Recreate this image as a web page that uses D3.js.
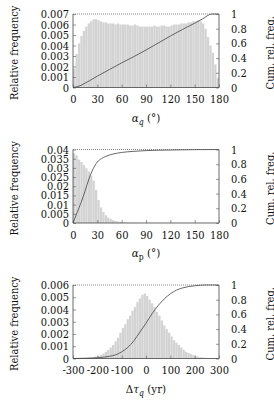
<!DOCTYPE html>
<html>
<head>
<meta charset="utf-8">
<script src="https://cdn.jsdelivr.net/npm/d3@7"></script>
<style>
  body { margin: 0; background: #fff; }
</style>
</head>
<body>
<svg id="chart" width="274" height="411"></svg>
<script>
// ---- data ----

// panel 1: alpha_q, 3 degree bins (bin centres 1.5 .. 178.5)
var aqFreq = [0.0018, 0.0032, 0.0042, 0.0049, 0.0054, 0.0058, 0.0061, 0.0063, 0.0065, 0.0065,
              0.0064, 0.0063, 0.0062, 0.0062, 0.0061, 0.0061, 0.0061, 0.0060, 0.0061, 0.0060,
              0.0060, 0.0060, 0.0060, 0.0059, 0.0059, 0.0060, 0.0059, 0.0058, 0.0058, 0.0058,
              0.0058, 0.0058, 0.0058, 0.0059, 0.0058, 0.0058, 0.0059, 0.0059, 0.0058, 0.0058,
              0.0059, 0.0060, 0.0060, 0.0060, 0.0061, 0.0061, 0.0061, 0.0062, 0.0062, 0.0063,
              0.0063, 0.0064, 0.0063, 0.0061, 0.0056, 0.0048, 0.0040, 0.0033, 0.0022, 0.0009];
var aqCumX = [0, 5, 10, 15, 20, 30, 45, 60, 75, 90, 105, 120, 135, 150, 160, 171, 180];
var aqCumY = [0, 0.01, 0.03, 0.06, 0.09, 0.155, 0.245, 0.335, 0.42, 0.51, 0.605, 0.70, 0.79, 0.875, 0.935, 1, 1];

// panel 2: alpha_p, 3 degree bins
var apFreq = [0.0380, 0.0368, 0.0345, 0.0332, 0.0315, 0.0298, 0.0280, 0.0258, 0.0230, 0.0180,
              0.0125, 0.0085, 0.0060, 0.0042, 0.0030, 0.0022, 0.0016, 0.0011, 0.0008, 0.0006,
              0.0004, 0.0003, 0.0003, 0.0002, 0.0002, 0.0002, 0.0002, 0.0002, 0.0001, 0.0001,
              0.0001, 0.0001, 0.0001, 0.0001, 0.0001, 0.0001, 0.0001, 0.0001, 0.0001, 0.0001,
              0.0001, 0.0001, 0.0001, 0.0001, 0.0001, 0.0001, 0.0001, 0.0001, 0.0001, 0.0001,
              0.0001, 0.0001, 0.0001, 0.0001, 0.0001, 0.0001, 0.0001, 0.0001, 0.0001, 0.0001];
var apCumX = [0, 5, 10, 15, 20, 25, 30, 35, 40, 45, 50, 60, 75, 90, 120, 150, 180];
var apCumY = [0, 0.14, 0.28, 0.44, 0.61, 0.74, 0.83, 0.875, 0.905, 0.925, 0.94, 0.96, 0.975, 0.985, 0.993, 0.998, 1];

// panel 3: delta tau_q, 10 yr bins (centres -295 .. 295)
var dtFreq = [0.00002, 0.00002, 0.00003, 0.00003, 0.00004, 0.00005, 0.00007, 0.00010, 0.00013, 0.00017,
              0.00022, 0.00030, 0.00040, 0.00055, 0.00070, 0.00090, 0.00110, 0.00140, 0.00170, 0.00210,
              0.00250, 0.00280, 0.00320, 0.00350, 0.00390, 0.00420, 0.00460, 0.00490, 0.00520, 0.00530,
              0.00510, 0.00480, 0.00450, 0.00420, 0.00380, 0.00350, 0.00310, 0.00270, 0.00240, 0.00210,
              0.00180, 0.00150, 0.00130, 0.00110, 0.00090, 0.00070, 0.00055, 0.00045, 0.00035, 0.00027,
              0.00020, 0.00015, 0.00011, 0.00008, 0.00006, 0.00004, 0.00003, 0.00002, 0.00002, 0.00001];
var dtCumX = [-300, -250, -200, -150, -125, -100, -75, -50, -25, 0, 25, 50, 75, 100, 125, 150, 200, 250, 300];
var dtCumY = [0, 0.003, 0.01, 0.03, 0.05, 0.09, 0.15, 0.24, 0.36, 0.48, 0.61, 0.72, 0.81, 0.88, 0.93, 0.96, 0.99, 1, 1];

var aqTicks = [0, 30, 60, 90, 120, 150, 180];
var dtTicks = [-300, -200, -100, 0, 100, 200, 300];
var dtTickLabels = ["-300", "-200", "-100", "0", "100", "200", "300"];
var cumTicks = [0, 0.2, 0.4, 0.6, 0.8, 1];
var aqFreqTicks = [0, 0.001, 0.002, 0.003, 0.004, 0.005, 0.006, 0.007];
var apFreqTicks = [0, 0.005, 0.01, 0.015, 0.02, 0.025, 0.03, 0.035, 0.04];
var dtFreqTicks = [0, 0.001, 0.002, 0.003, 0.004, 0.005, 0.006];

var panels = [
  {freq: aqFreq, x0: 0, bw: 3, xdom: [0, 180], ymax: 0.007, yticks: aqFreqTicks, xticks: aqTicks,
   xlabels: aqTicks.map(String), cx: aqCumX, cy: aqCumY, top: 14, label: "q"},
  {freq: apFreq, x0: 0, bw: 3, xdom: [0, 180], ymax: 0.04, yticks: apFreqTicks, xticks: aqTicks,
   xlabels: aqTicks.map(String), cx: apCumX, cy: apCumY, top: 149.5, label: "p"},
  {freq: dtFreq, x0: -300, bw: 10, xdom: [-300, 300], ymax: 0.006, yticks: dtFreqTicks, xticks: dtTicks,
   xlabels: dtTickLabels, cx: dtCumX, cy: dtCumY, top: 285, label: "dt"}
];

var svg = d3.select("#chart");
var left = 73, right = 219, h = 73.5;
var serif = "'DejaVu Serif Condensed', 'DejaVu Serif', serif";
var fs = 11;

function styleAxis(s) {
  s.attr("font-family", serif).attr("font-stretch", "condensed");
  s.select(".domain").remove();
  s.selectAll("line").attr("stroke", "#555").attr("stroke-width", 0.6);
  s.selectAll("text").attr("font-size", fs).attr("fill", "#111");
}

panels.forEach(function(p) {
  var g = svg.append("g").attr("font-family", serif).attr("font-stretch", "condensed").attr("fill", "#111");
  var x = d3.scaleLinear().domain(p.xdom).range([left, right]);
  var y = d3.scaleLinear().domain([0, p.ymax]).range([p.top + h, p.top]);
  var y2 = d3.scaleLinear().domain([0, 1]).range([p.top + h, p.top]);

  /* histogram bars */
  g.selectAll("rect.bar").data(p.freq).enter().append("rect")
    .attr("class", "bar")
    .attr("x", function(d, i) { return x(p.x0 + i * p.bw) + 0.06; })
    .attr("width", function(d, i) { return Math.max(0, x(p.x0 + (i + 1) * p.bw) - x(p.x0 + i * p.bw) - 0.12); })
    .attr("y", function(d) { return y(d); })
    .attr("height", function(d) { return y(0) - y(d); })
    .attr("fill", "#d3d3d3");

  /* cumulative curve */
  var line = d3.line()
    .x(function(d) { return x(d[0]); })
    .y(function(d) { return y2(d[1]); })
    .curve(d3.curveMonotoneX);
  g.append("path")
    .datum(d3.zip(p.cx, p.cy))
    .attr("d", line)
    .attr("fill", "none")
    .attr("stroke", "#555")
    .attr("stroke-width", 0.9);

  /* frame */
  g.append("path")
    .attr("d", "M" + left + "," + p.top + "V" + (p.top + h) + "H" + right + "V" + p.top)
    .attr("fill", "none").attr("stroke", "#444").attr("stroke-width", 0.8);
  g.append("line")
    .attr("x1", left).attr("x2", right).attr("y1", p.top).attr("y2", p.top)
    .attr("stroke", "#555").attr("stroke-width", 0.7).attr("stroke-dasharray", "1,1");

  /* left axis */
  var ya = d3.axisLeft(y).tickValues(p.yticks).tickSize(-3).tickPadding(4)
    .tickFormat(function(d) { return String(+d.toFixed(4)); });
  g.append("g").attr("transform", "translate(" + left + ",0)").call(ya).call(styleAxis);

  /* right axis */
  var ra = d3.axisRight(y2).tickValues(cumTicks).tickSize(-3).tickPadding(12)
    .tickFormat(function(d) { return String(d); });
  g.append("g").attr("transform", "translate(" + right + ",0)").call(ra).call(styleAxis);

  /* bottom axis */
  var xa = d3.axisBottom(x).tickValues(p.xticks).tickSize(-3).tickPadding(8)
    .tickFormat(function(d, i) { return p.xlabels[i]; });
  g.append("g").attr("transform", "translate(0," + (p.top + h) + ")").call(xa).call(styleAxis);

  /* y titles */
  var midY = p.top + h / 2 + 2;
  g.append("text")
    .attr("transform", "translate(18," + midY + ") rotate(-90)")
    .attr("text-anchor", "middle").attr("font-size", fs)
    .text("Relative frequency");
  g.append("text")
    .attr("transform", "translate(274," + midY + ") rotate(-90)")
    .attr("text-anchor", "middle").attr("font-size", fs)
    .text("Cum. rel. freq.");

  /* x title */
  var t = g.append("text")
    .attr("x", (left + right) / 2).attr("y", p.top + h + 34)
    .attr("text-anchor", "middle").attr("font-size", fs + 0.5);
  if (p.label === "q") {
    t.append("tspan").attr("font-style", "italic").text("α");
    t.append("tspan").attr("font-style", "italic").attr("font-size", 8.5).attr("dy", 3).text("q");
    t.append("tspan").attr("dy", -3).text(" (°)");
  } else if (p.label === "p") {
    t.append("tspan").attr("font-style", "italic").text("α");
    t.append("tspan").attr("font-size", 8.5).attr("dy", 3).text("p");
    t.append("tspan").attr("dy", -3).text(" (°)");
  } else {
    t.append("tspan").text("Δ");
    t.append("tspan").attr("font-style", "italic").text("τ");
    t.append("tspan").attr("font-style", "italic").attr("font-size", 8.5).attr("dy", 3).text("q");
    t.append("tspan").attr("dy", -3).text(" (yr)");
  }
});
</script>
</body>
</html>
